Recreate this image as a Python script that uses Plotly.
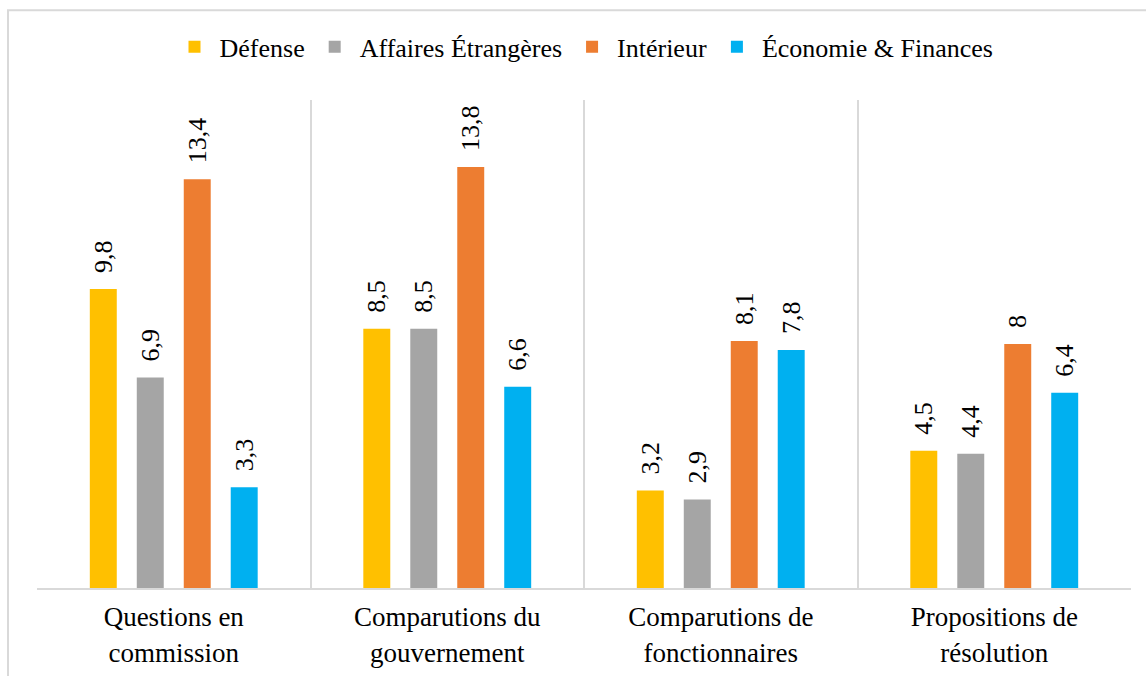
import plotly.graph_objects as go

# Categories (two-line axis labels) and series values
categories = [
    "Questions en<br>commission",
    "Comparutions du<br>gouvernement",
    "Comparutions de<br>fonctionnaires",
    "Propositions de<br>résolution",
]
series_names = ["Défense", "Affaires Étrangères", "Intérieur", "Économie & Finances"]
defense = [9.8, 8.5, 3.2, 4.5]
affaires_etrangeres = [6.9, 8.5, 2.9, 4.4]
interieur = [13.4, 13.8, 8.1, 8]
economie_finances = [3.3, 6.6, 7.8, 6.4]

series_values = [defense, affaires_etrangeres, interieur, economie_finances]
colors = ["#FFC000", "#A5A5A5", "#ED7D31", "#00B0F0"]

FONT = "Liberation Serif"
FS = 26


def fr_label(v):
    # French decimal comma, nudged off the bar top
    s = f"{v:g}".replace(".", ",")
    return "\u00a0\u00a0" + s


fig = go.Figure()
for name, vals, col in zip(series_names, series_values, colors):
    fig.add_trace(go.Bar(
        x=categories,
        y=vals,
        name=name,
        marker=dict(color=col, line=dict(width=0)),
        text=[fr_label(v) for v in vals],
        textposition="outside",
        textangle=-90,
        constraintext="none",
        cliponaxis=False,
        textfont=dict(family=FONT, size=FS, color="#000000"),
        hoverinfo="skip",
    ))

fig.update_layout(
    barmode="group",
    bargap=0.313,
    bargroupgap=0.426,
    width=1146,
    height=676,
    margin=dict(l=37, r=15, t=100, b=88, autoexpand=False),
    paper_bgcolor="white",
    plot_bgcolor="white",
    font=dict(family=FONT, size=FS, color="#000000"),
    showlegend=True,
    legend=dict(
        orientation="h",
        x=0.5, xanchor="center",
        y=1.109, yanchor="middle",
        itemwidth=40,
        font=dict(family=FONT, size=FS, color="#000000"),
        itemclick=False,
    ),
    xaxis=dict(
        type="category",
        automargin=False,
        tickson="boundaries",
        ticks="",
        ticklabelstandoff=4,
        showgrid=True,
        gridcolor="#D9D9D9",
        gridwidth=2,
        showline=True,
        linecolor="#D9D9D9",
        linewidth=2,
        tickfont=dict(family=FONT, size=27, color="#000000"),
    ),
    yaxis=dict(
        range=[0, 16],
        visible=False,
        automargin=False,
        showgrid=False,
        zeroline=False,
    ),
    shapes=[
        # outer chart frame
        dict(
            type="rect", xref="paper", yref="paper",
            x0=-0.0265, x1=1.05, y0=-0.5, y1=1.184,
            line=dict(color="#D9D9D9", width=2),
            fillcolor="rgba(0,0,0,0)",
            layer="below",
        ),
    ],
)

fig.write_html("out.html")
